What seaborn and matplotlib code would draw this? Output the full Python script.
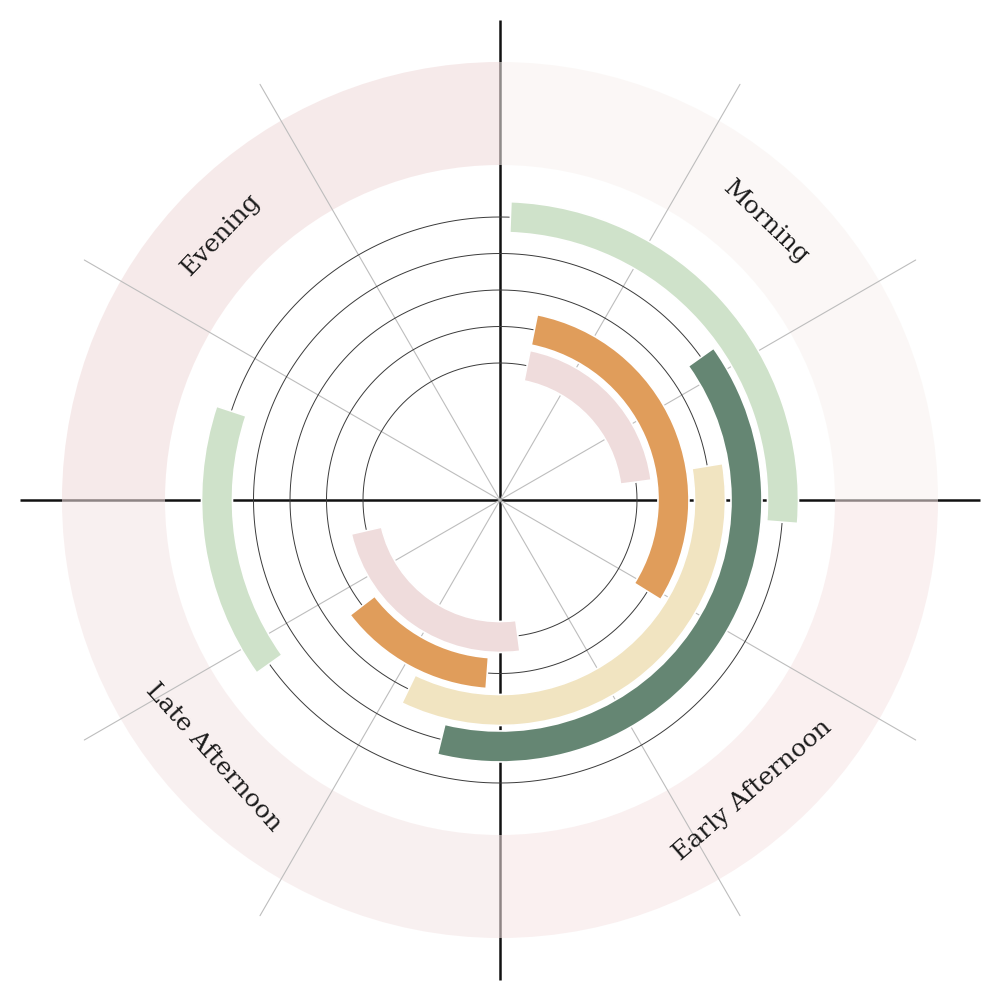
import numpy as np
import matplotlib
matplotlib.use("Agg")
import matplotlib.pyplot as plt
import matplotlib.colors as mcolors
import seaborn as sns

# ---------------- data ----------------
# dial: 12 hours around the circle, 0 at top, clockwise
quadrant_names = ["Morning", "Early Afternoon", "Late Afternoon", "Evening"]
quadrant_start = [0, 3, 6, 9]          # hours
quadrant_end = [3, 6, 9, 12]
quadrant_colors = ["#fbf8f6", "#faf0f0", "#f9f0f0", "#f7eaea"]

series_names = ["Ring 1", "Ring 2", "Ring 3", "Ring 4", "Ring 5"]   # inner -> outer
series_colors = ["#efdcdc", "#e09d5b", "#f1e4c1", "#658673", "#cfe2ca"]

seg_series = ["Ring 1", "Ring 1", "Ring 2", "Ring 2", "Ring 3", "Ring 4", "Ring 5", "Ring 5"]
seg_start = [0.38, 5.75, 0.38, 6.14, 2.69, 1.82, 0.07, 7.82]   # hours
seg_end = [2.75, 8.57, 4.06, 7.75, 6.86, 6.46, 3.15, 9.61]     # hours

# ---------------- style ----------------
sns.set_theme(style="white")
plt.rcParams["font.family"] = ["DejaVu Serif", "DejaVu Sans"]
palette = dict(zip(series_names, sns.color_palette(series_colors)))

HOURS = 12
def h2t(h):
    return np.asarray(h, dtype=float) * 2 * np.pi / HOURS

ring_r0, ring_step, bar_h = 137.0, 36.5, 31.0
ring_radius = {s: ring_r0 + i * ring_step for i, s in enumerate(series_names)}
band_in, band_out, label_r, axis_r = 335.0, 438.0, 385.0, 480.0
band_alpha = 0.55
label_shift_deg = [-1.2, 4.0, 3.0, -1.5]   # placement tweak of labels along the band

fig = plt.figure(figsize=(10, 10), dpi=100, facecolor="white")
ax = fig.add_axes([0, 0, 1, 1], projection="polar")
ax.set_theta_zero_location("N")
ax.set_theta_direction(-1)
ax.set_ylim(0, 500)
ax.set_axis_off()

# black cross axes (drawn under the translucent band)
for h in [0, 3, 6, 9]:
    ax.plot([h2t(h), h2t(h)], [0, axis_r], color="#111111", lw=1.8,
            solid_capstyle="butt", zorder=1)

# outer quadrant band
for name, s, e, c in zip(quadrant_names, quadrant_start, quadrant_end, quadrant_colors):
    rgb = np.array(mcolors.to_rgb(c))
    base = np.clip((rgb - (1 - band_alpha)) / band_alpha, 0, 1)
    ax.bar(h2t((s + e) / 2), band_out - band_in, width=h2t(e - s), bottom=band_in,
           color=(*base, band_alpha), linewidth=0, zorder=2)

# grey hour spokes
for h in range(HOURS):
    if h % 3 == 0:
        continue
    ax.plot([h2t(h), h2t(h)], [0, axis_r], color="#bdbdbd", lw=0.8, zorder=3)

# ring circles
th = np.linspace(0, 2 * np.pi, 721)
for s in series_names:
    ax.plot(th, np.full_like(th, ring_radius[s]), color="#3a3a3a", lw=0.7, zorder=3)

# arcs
for s, a, b in zip(seg_series, seg_start, seg_end):
    ax.bar(h2t((a + b) / 2), bar_h, width=h2t(b - a),
           bottom=ring_radius[s] - bar_h / 2, color=palette[s],
           edgecolor="white", linewidth=1.2, zorder=4)

# quadrant labels, tangential
for name, s, e, d in zip(quadrant_names, quadrant_start, quadrant_end, label_shift_deg):
    mid = (s + e) / 2
    deg = mid * 360 / HOURS + d
    rot = -deg
    if 90 < deg < 270:
        rot += 180
    ax.text(np.deg2rad(deg), label_r, name, rotation=rot, rotation_mode="anchor",
            ha="center", va="center", fontsize=18, color="#1a1a1a", zorder=5)

fig.savefig("out.png", dpi=100, facecolor="white")
